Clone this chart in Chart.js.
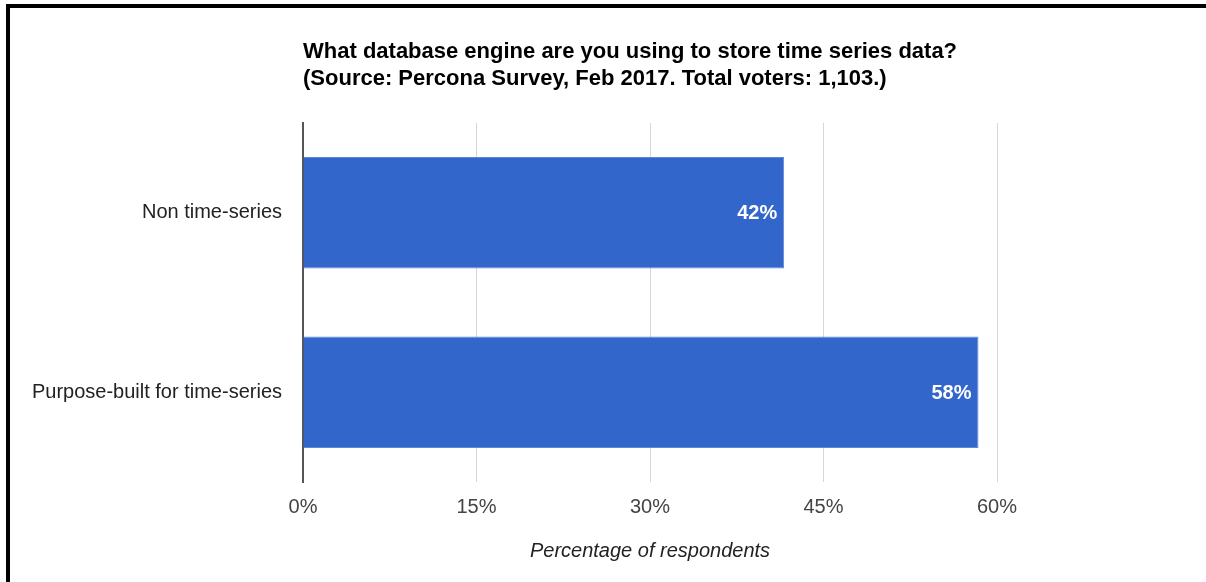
<!DOCTYPE html>
<html>
<head>
<meta charset="utf-8">
<script src="https://cdn.jsdelivr.net/npm/chart.js@4/dist/chart.umd.min.js"></script>
<style>
  html, body { margin: 0; padding: 0; background: #fff; }
  #wrap { position: relative; width: 1206px; height: 582px; overflow: hidden; }
  #frame {
    position: absolute; left: 6px; top: 4px; width: 1300px; height: 700px;
    border-top: 4.5px solid #000; border-left: 4px solid #000;
    box-sizing: border-box; pointer-events: none;
  }
  canvas { position: absolute; left: 0; top: 0; }
</style>
</head>
<body>
<div id="wrap">
  <canvas id="engine-chart" width="1206" height="582"></canvas>
  <div id="frame"></div>
</div>
<script>
const titleLines = [
  'What database engine are you using to store time series data?',
  '(Source: Percona Survey, Feb 2017. Total voters: 1,103.)',
];
const categories = ['Non time-series', 'Purpose-built for time-series'];
const shares = [41.6, 58.4];
const shareLabels = ['42%', '58%'];
const xTicks = [0, 15, 30, 45, 60];

const FONT = "'Liberation Sans', Arial, sans-serif";

// title lines sit flush with the plot's left edge, like the original
const titlePlugin = {
  id: 'leftTitle',
  afterDraw(chart) {
    const { ctx, chartArea } = chart;
    ctx.save();
    ctx.fillStyle = '#000';
    ctx.font = `bold 22px ${FONT}`;
    ctx.textBaseline = 'alphabetic';
    ctx.textAlign = 'left';
    titleLines.forEach((line, i) => ctx.fillText(line, chartArea.left, 58 + i * 27));
    ctx.restore();
  },
};

// white value labels just inside the bar ends
const barLabels = {
  id: 'barLabels',
  afterDatasetsDraw(chart) {
    const { ctx } = chart;
    const meta = chart.getDatasetMeta(0);
    ctx.save();
    ctx.fillStyle = '#fff';
    ctx.font = `bold 20px ${FONT}`;
    ctx.textAlign = 'right';
    ctx.textBaseline = 'middle';
    meta.data.forEach((bar, i) => ctx.fillText(shareLabels[i], bar.x - 7, bar.y + 1));
    ctx.restore();
  },
};

const ctx = document.getElementById('engine-chart').getContext('2d');
new Chart(ctx, {
  type: 'bar',
  data: {
    labels: categories,
    datasets: [{
      data: shares,
      backgroundColor: '#3266cb',
      borderColor: '#5b87d8',
      borderWidth: { top: 1, bottom: 1, right: 1, left: 0 },
      borderSkipped: false,
      categoryPercentage: 1,
      barPercentage: 0.62,
    }],
  },
  options: {
    indexAxis: 'y',
    responsive: false,
    animation: false,
    layout: { padding: { top: 123, right: 209, bottom: 0, left: 0 } },
    plugins: { legend: { display: false }, tooltip: { enabled: false } },
    scales: {
      x: {
        min: 0,
        max: 60,
        afterBuildTicks: (scale) => { scale.ticks = xTicks.map(v => ({ value: v })); },
        afterFit: (scale) => { scale.height = 100; },
        grid: { color: '#d6d6d6', lineWidth: 1, drawTicks: false },
        border: { display: false },
        ticks: {
          padding: 13,
          color: '#444',
          font: { family: FONT, size: 20 },
          callback: (v) => v + '%',
        },
        title: {
          display: true,
          text: 'Percentage of respondents',
          color: '#222',
          font: { family: FONT, size: 20, style: 'italic' },
          padding: { top: 0, bottom: 19 },
        },
      },
      y: {
        z: 1,
        afterFit: (scale) => { scale.width = 303; },
        grid: { display: false, drawTicks: false },
        border: { display: true, color: '#555', width: 2 },
        ticks: {
          padding: 21,
          color: '#222',
          font: { family: FONT, size: 20 },
        },
      },
    },
  },
  plugins: [titlePlugin, barLabels],
});
</script>
</body>
</html>
